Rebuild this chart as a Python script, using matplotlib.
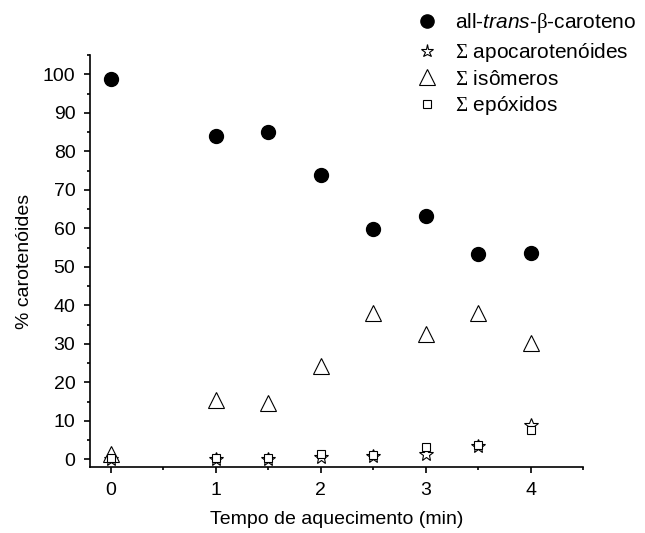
import matplotlib

matplotlib.use("Agg")
import matplotlib.pyplot as plt
from matplotlib.ticker import MultipleLocator

plt.rcParams["font.family"] = ["Liberation Sans", "DejaVu Sans"]
plt.rcParams["mathtext.fontset"] = "custom"
plt.rcParams["mathtext.rm"] = "Liberation Serif"
plt.rcParams["mathtext.it"] = "Liberation Sans:italic"

tempo = [0, 1, 1.5, 2, 2.5, 3, 3.5, 4]
all_trans = [98.7, 84.0, 85.0, 73.8, 59.8, 63.2, 53.4, 53.7]
apocarotenoides = [0.0, 0.0, 0.0, 0.5, 0.8, 1.5, 3.4, 9.0]
isomeros = [1.5, 15.5, 14.5, 24.3, 38.0, 32.5, 38.0, 30.3]
epoxidos = [0.4, 0.4, 0.3, 1.5, 1.2, 3.3, 3.6, 7.5]

labels = [
    r"all-$\mathit{trans}$-$\mathrm{\beta}$-caroteno",
    r"$\Sigma$ apocarotenóides",
    r"$\Sigma$ isômeros",
    r"$\Sigma$ epóxidos",
]

fig = plt.figure(figsize=(6.45, 5.33), dpi=100)
ax = fig.add_axes([0.1395, 0.1238, 0.7645, 0.773])

ax.plot(tempo, all_trans, "o", color="k", ms=10, ls="none", label=labels[0])
ax.plot(tempo, apocarotenoides, "*", mfc="white", mec="k", mew=0.8, ms=10,
        ls="none", label=labels[1])
ax.plot(tempo, isomeros, "^", mfc="white", mec="k", mew=0.8, ms=11.5,
        ls="none", label=labels[2])
ax.plot(tempo, epoxidos, "s", mfc="white", mec="k", mew=0.8, ms=6,
        ls="none", label=labels[3])

ax.set_xlim(-0.2, 4.5)
ax.set_ylim(-2, 105)
ax.xaxis.set_major_locator(MultipleLocator(1))
ax.xaxis.set_minor_locator(MultipleLocator(0.5))
ax.yaxis.set_major_locator(MultipleLocator(10))
ax.yaxis.set_minor_locator(MultipleLocator(5))
ax.tick_params(which="major", direction="out", length=4.5, width=1.2,
               labelsize=14, pad=6)
ax.tick_params(which="minor", direction="out", length=2.5, width=1.2)
for side in ("top", "right"):
    ax.spines[side].set_visible(False)
for side in ("left", "bottom"):
    ax.spines[side].set_linewidth(1.2)

ax.set_xlabel("Tempo de aquecimento (min)", fontsize=14, labelpad=9)
ax.set_ylabel("% carotenóides", fontsize=14, labelpad=7)

leg = fig.legend(loc="upper left", bbox_to_anchor=(0.627, 0.995), frameon=False,
                 fontsize=15, handletextpad=0.65, labelspacing=0.28,
                 handlelength=1.4, borderaxespad=0, markerscale=0.95)

fig.savefig("out.png", dpi=100)
